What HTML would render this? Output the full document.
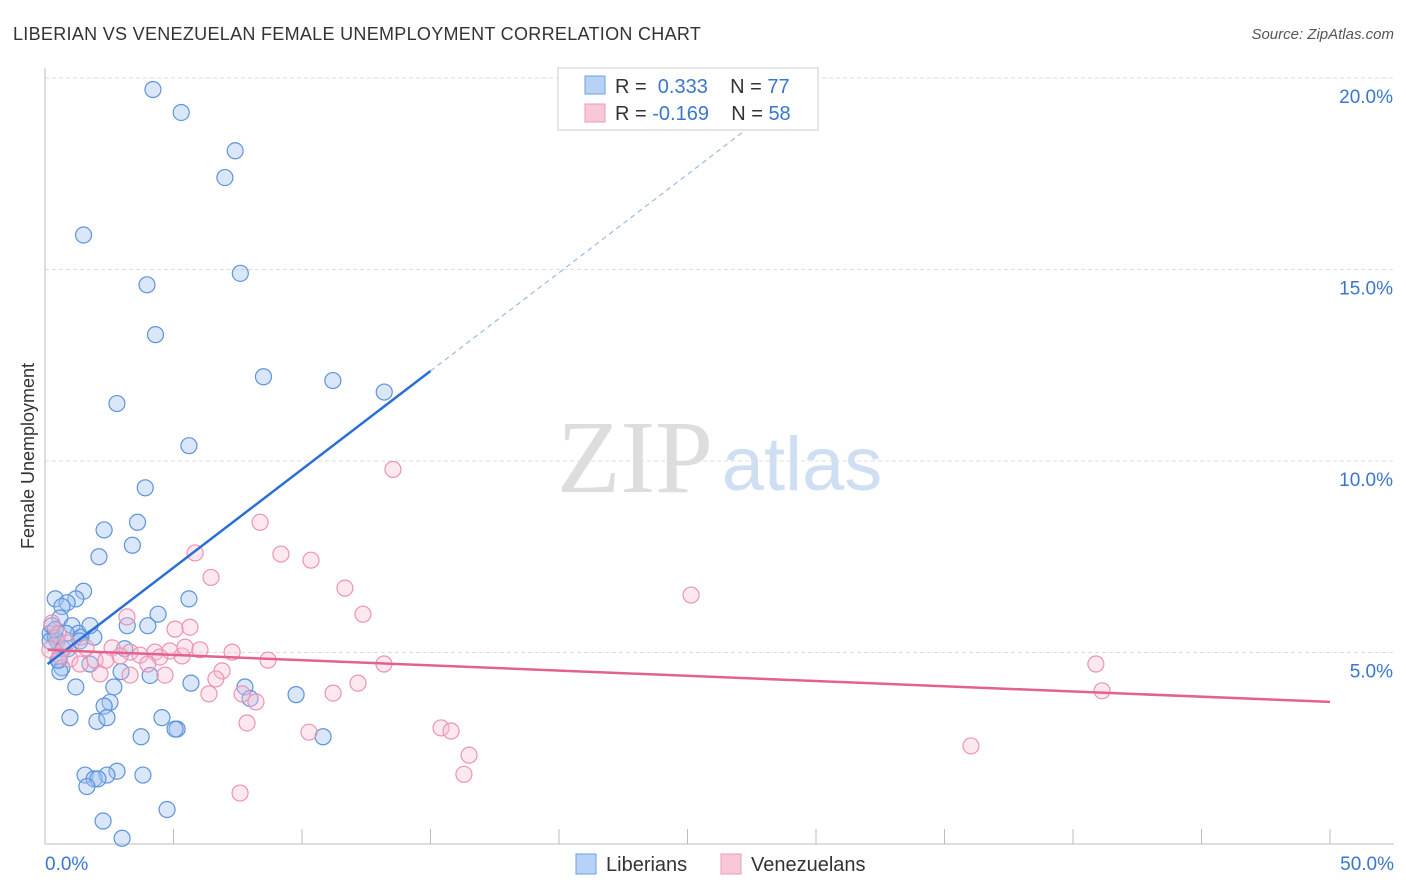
<!DOCTYPE html>
<html><head><meta charset="utf-8"><style>
body{margin:0;background:#fff;font-family:"Liberation Sans",sans-serif}
svg{display:block}
</style></head><body>
<svg id="chart" width="1406" height="892">
<text x="13" y="40" font-size="18" fill="#333" letter-spacing="0.3">LIBERIAN VS VENEZUELAN FEMALE UNEMPLOYMENT CORRELATION CHART</text>
<text x="1394" y="39" font-size="15" fill="#555" font-style="italic" text-anchor="end">Source: ZipAtlas.com</text>
<text x="0" y="0" font-size="18" fill="#333" text-anchor="middle" transform="translate(34,456) rotate(-90)">Female Unemployment</text>
<g>
<text x="635" y="492" font-size="104" fill="#ddd" font-family="Liberation Serif" text-anchor="middle">ZIP</text>
<text x="802" y="490" font-size="76" fill="#cfdff3" text-anchor="middle">atlas</text>
</g>
<g id="grid"></g><g id="axes"></g><g id="marks"></g>
<g>
<rect x="558" y="68" width="260" height="62" fill="#fff" stroke="#ccc"/>
<rect x="585" y="76" width="20" height="18" fill="#b7d2f5" stroke="#6d9ee0"/>
<rect x="585" y="104" width="20" height="18" fill="#f8c8d8" stroke="#eb9ab6"/>
<text x="615" y="93" font-size="20" fill="#333">R = <tspan fill="#3a76d0">&#160;0.333</tspan>&#160;&#160;&#160; N = <tspan fill="#3a76d0">77</tspan></text>
<text x="615" y="120" font-size="20" fill="#333">R = <tspan fill="#3a76d0">-0.169</tspan>&#160;&#160;&#160; N = <tspan fill="#3a76d0">58</tspan></text>
</g>
<g>
<rect x="576" y="854" width="20" height="20" fill="#b7d2f5" stroke="#6d9ee0"/>
<text x="606" y="871" font-size="20" fill="#333">Liberians</text>
<rect x="721" y="854" width="20" height="20" fill="#f8c8d8" stroke="#eb9ab6"/>
<text x="751" y="871" font-size="20" fill="#333">Venezuelans</text>
</g>
</svg>
<script>
const yTicks=[5,10,15,20];
const yTickLabels=["5.0%","10.0%","15.0%","20.0%"];
const xTicks=[0,5,10,15,20,25,30,35,40,45,50];
const blueX=[4.2,5.3,7.4,7.0,1.5,7.6,3.97,4.3,8.5,11.2,13.2,2.8,5.6,3.9,3.6,2.3,3.4,2.1,1.5,0.4,1.2,0.86,0.66,4.4,5.6,0.58,1.05,3.2,4.0,0.2,1.3,1.9,0.4,0.82,1.4,0.47,3.1,0.9,0.55,1.75,0.66,0.58,2.96,4.09,5.68,1.2,2.68,7.78,9.77,7.98,2.53,2.3,0.97,4.55,2.02,2.41,5.14,5.06,10.82,3.74,1.56,2.8,2.41,3.81,1.91,2.06,1.63,4.75,2.26,3.0,0.27,0.2,0.4,1.36,0.7,1.75,0.51];
const blueY=[19.7,19.1,18.1,17.4,15.9,14.9,14.6,13.3,12.2,12.1,11.8,11.5,10.4,9.3,8.4,8.2,7.8,7.5,6.6,6.4,6.4,6.3,6.2,6.0,6.4,5.9,5.7,5.7,5.7,5.5,5.5,5.4,5.4,5.5,5.4,5.3,5.1,5.1,4.8,4.7,4.6,4.5,4.5,4.4,4.2,4.1,4.1,4.1,3.9,3.8,3.7,3.6,3.3,3.3,3.2,3.3,3.0,3.0,2.8,2.8,1.8,1.9,1.8,1.8,1.7,1.7,1.5,0.9,0.6,0.15,5.7,5.3,5.6,5.3,5.1,5.7,4.8];
const pinkX=[13.54,8.37,5.84,9.18,10.35,6.46,11.67,25.14,12.37,3.19,5.06,5.64,0.27,0.51,0.86,1.6,2.61,3.31,3.7,4.28,4.47,4.0,4.86,5.33,5.45,6.03,7.28,8.68,13.19,40.89,0.97,1.36,1.95,2.37,2.92,2.14,3.31,4.67,6.89,6.65,12.18,11.21,6.38,7.67,8.21,41.13,7.86,15.41,15.8,10.27,16.5,36.03,16.3,7.59,0.19,0.58];
const pinkY=[9.78,8.4,7.6,7.57,7.41,6.96,6.68,6.5,6.0,5.93,5.61,5.66,5.77,5.48,5.25,5.12,5.12,5.01,4.93,5.01,4.88,4.7,5.04,4.91,5.14,5.07,5.01,4.80,4.7,4.7,4.83,4.70,4.8,4.8,4.91,4.44,4.41,4.41,4.52,4.31,4.2,3.94,3.92,3.92,3.71,4.0,3.16,3.03,2.95,2.92,2.32,2.56,1.82,1.33,5.07,4.91];
const blueTrendX=[0.1,15.0];
const blueTrendY=[4.70,12.35];
const blueDashX=[15.0,28.5];
const pinkTrendX=[0.1,50];
const pinkTrendY=[5.07,3.71];
const sx=v=>45+v*25.7, sy=v=>844-v*38.3;
const NS="http://www.w3.org/2000/svg";
function mk(tag,attrs,parent){const e=document.createElementNS(NS,tag);for(const k in attrs)e.setAttribute(k,attrs[k]);parent.appendChild(e);return e;}
const grid=document.getElementById('grid'),axes=document.getElementById('axes'),marks=document.getElementById('marks');
yTicks.forEach((t,i)=>{
 const l=mk('line',{x1:45,x2:1394,y1:sy(t),y2:sy(t),stroke:'#ddd','stroke-dasharray':'4,3'},grid);
 
 
 const tx=mk('text',{x:1393,y:sy(t)+25,'font-size':19,fill:'#3a76d0','text-anchor':'end'},axes);
 tx.textContent=yTickLabels[i];
 
 
});
const ax=mk('line',{x1:45,x2:1394,y1:844,y2:844,stroke:'#bbb'},axes);


const ay=mk('line',{x1:45,x2:45,y1:68,y2:844,stroke:'#bbb'},axes);


xTicks.forEach(t=>{const l=mk('line',{x1:sx(t),x2:sx(t),y1:829,y2:844,stroke:'#bbb'},axes);
 
 });
const x0=mk('text',{x:45,y:870,'font-size':19,fill:'#3a76d0'},axes);x0.textContent='0.0%';


const x1=mk('text',{x:1394,y:870,'font-size':19,fill:'#3a76d0','text-anchor':'end'},axes);x1.textContent='50.0%';


blueX.forEach((v,i)=>{const c=mk('circle',{cx:sx(v),cy:sy(blueY[i]),r:8,fill:'rgba(160,195,240,0.4)',stroke:'#5e93da','stroke-width':1.2},marks);
 
 });
pinkX.forEach((v,i)=>{const c=mk('circle',{cx:sx(v),cy:sy(pinkY[i]),r:8,fill:'rgba(248,190,210,0.35)',stroke:'#ec93b3','stroke-width':1.2},marks);
 
 });
const slope=(blueTrendY[1]-blueTrendY[0])/(blueTrendX[1]-blueTrendX[0]);
const by=x=>blueTrendY[0]+slope*(x-blueTrendX[0]);
const bl=mk('line',{x1:sx(blueTrendX[0]),y1:sy(blueTrendY[0]),x2:sx(blueTrendX[1]),y2:sy(blueTrendY[1]),stroke:'#2a6fd6','stroke-width':2.5},marks);


const bd=mk('line',{x1:sx(blueDashX[0]),y1:sy(by(blueDashX[0])),x2:sx(blueDashX[1]),y2:sy(by(blueDashX[1])),stroke:'#9bbbe6','stroke-width':1.2,'stroke-dasharray':'5,4'},marks);


const pl=mk('line',{x1:sx(pinkTrendX[0]),y1:sy(pinkTrendY[0]),x2:sx(pinkTrendX[1]),y2:sy(pinkTrendY[1]),stroke:'#e2628f','stroke-width':2.5},marks);


</script>
</body></html>
